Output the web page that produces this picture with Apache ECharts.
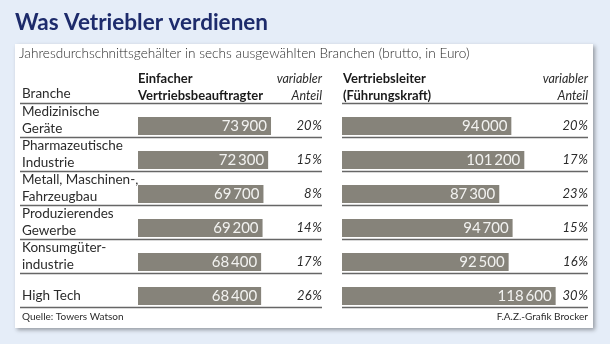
<!DOCTYPE html>
<html><head><meta charset="utf-8">
<script src="https://cdn.jsdelivr.net/npm/echarts@6/dist/echarts.min.js"></script>
<style>html,body{margin:0;padding:0;background:#e5edf8;}#c{width:610px;height:344px;}</style>
</head><body><div id="c"></div>
<script>
const branches = ["Medizinische\nGeräte", "Pharmazeutische\nIndustrie", "Metall, Maschinen-,\nFahrzeugbau", "Produzierendes\nGewerbe", "Konsumgüter-\nindustrie", "High Tech"];
const salaryBase = [73900, 72300, 69700, 69200, 68400, 68400];
const varBase = [20, 15, 8, 14, 17, 26];
const salaryLead = [94000, 101200, 87300, 94700, 92500, 118600];
const varLead = [20, 17, 23, 15, 16, 30];

const F = 'Lato, "Open Sans", sans-serif';
const TXT = '#2b2b2b';
const BAR = '#86837a';
const LINE = '#666666';

function fmtNum(v){ const s = String(v); return s.slice(0, s.length-3) + '\u2009' + s.slice(-3); }
function fmtPct(v){ return v + '\u200a%'; }

const chart = echarts.init(document.getElementById('c'), null, {renderer:'canvas'});

const hiddenVal = (gi, max) => ({type:'value', gridIndex:gi, min:0, max:max, show:false});
const catAxis = (gi, extra) => Object.assign({type:'category', gridIndex:gi, data:branches, inverse:true,
  axisLine:{show:false}, axisTick:{show:false}}, extra);

const option = {
  backgroundColor:'#e5edf8',
  animation:false,
  grid:[
    {left:20, top:103, width:302, height:204},
    {left:342, top:103, width:246, height:204},
    {left:138, top:109, width:180, height:204},
    {left:342, top:109, width:245, height:204}
  ],
  xAxis:[hiddenVal(0,1), hiddenVal(1,1), hiddenVal(2,100000), hiddenVal(3,136000)],
  yAxis:[
    catAxis(0,{splitLine:{show:true, lineStyle:{color:LINE, width:1.3}},
      axisLabel:{inside:true, margin:2, align:'left', color:TXT, fontFamily:F, fontSize:13.5, lineHeight:17,
        formatter:(v)=> v.indexOf('\n')<0 ? '{sp|}\n' + v : v,
        rich:{sp:{height:12, lineHeight:12}}}}),
    catAxis(1,{splitLine:{show:true, lineStyle:{color:LINE, width:1.3}}, axisLabel:{show:false}}),
    catAxis(2,{axisLabel:{show:false}}),
    catAxis(3,{axisLabel:{show:false}}),
    catAxis(2,{position:'right', axisLabel:{show:true, margin:4, align:'right', color:TXT, fontFamily:F, fontStyle:'italic', fontSize:13,
      formatter:(v,i)=>fmtPct(varBase[i])}}),
    catAxis(3,{position:'right', axisLabel:{show:true, margin:1, align:'right', color:TXT, fontFamily:F, fontStyle:'italic', fontSize:13,
      formatter:(v,i)=>fmtPct(varLead[i])}})
  ],
  series:[
    {type:'bar', xAxisIndex:2, yAxisIndex:2, data:salaryBase, barWidth:18, itemStyle:{color:BAR},
      label:{show:true, position:'insideRight', distance:4, color:'#f2f2f0', fontFamily:F, fontSize:15, formatter:(p)=>fmtNum(p.value)}},
    {type:'bar', xAxisIndex:3, yAxisIndex:3, data:salaryLead, barWidth:18, itemStyle:{color:BAR},
      label:{show:true, position:'insideRight', distance:4, color:'#f2f2f0', fontFamily:F, fontSize:15, formatter:(p)=>fmtNum(p.value)}}
  ],
  graphic:[
    {type:'rect', z:-10, shape:{x:15, y:44, width:578, height:284}, style:{fill:'#ffffff', shadowBlur:4, shadowOffsetX:2, shadowOffsetY:2, shadowColor:'rgba(0,0,0,0.35)'}},
    {type:'text', x:15, y:11, style:{text:'Was Vetriebler verdienen', fill:'#1d2b6b', font:'bold 22.5px ' + F}},
    {type:'text', x:19, y:47, style:{text:'Jahresdurchschnittsgehälter in sechs ausgewählten Branchen (brutto, in Euro)', fill:TXT, font:'300 13.6px ' + F}},
    {type:'text', x:22, y:87, style:{text:'Branche', fill:TXT, font:'13.5px ' + F}},
    {type:'text', x:138, y:70, style:{text:'Einfacher\nVertriebsbeauftragter', fill:'#1a1a1a', font:'bold 13px ' + F, lineHeight:17}},
    {type:'text', x:343, y:70, style:{text:'Vertriebsleiter\n(Führungskraft)', fill:'#1a1a1a', font:'bold 13px ' + F, lineHeight:17}},
    {type:'text', x:322, y:70, style:{text:'variabler\nAnteil', fill:TXT, font:'italic 12.5px ' + F, lineHeight:17, align:'right'}},
    {type:'text', x:588, y:70, style:{text:'variabler\nAnteil', fill:TXT, font:'italic 12.5px ' + F, lineHeight:17, align:'right'}},
    {type:'text', x:22, y:312, style:{text:'Quelle: Towers Watson', fill:TXT, font:'10px ' + F}},
    {type:'text', x:588, y:312, style:{text:'F.A.Z.-Grafik Brocker', fill:TXT, font:'10px ' + F, align:'right'}}
  ]
};
chart.setOption(option);
</script></body></html>
